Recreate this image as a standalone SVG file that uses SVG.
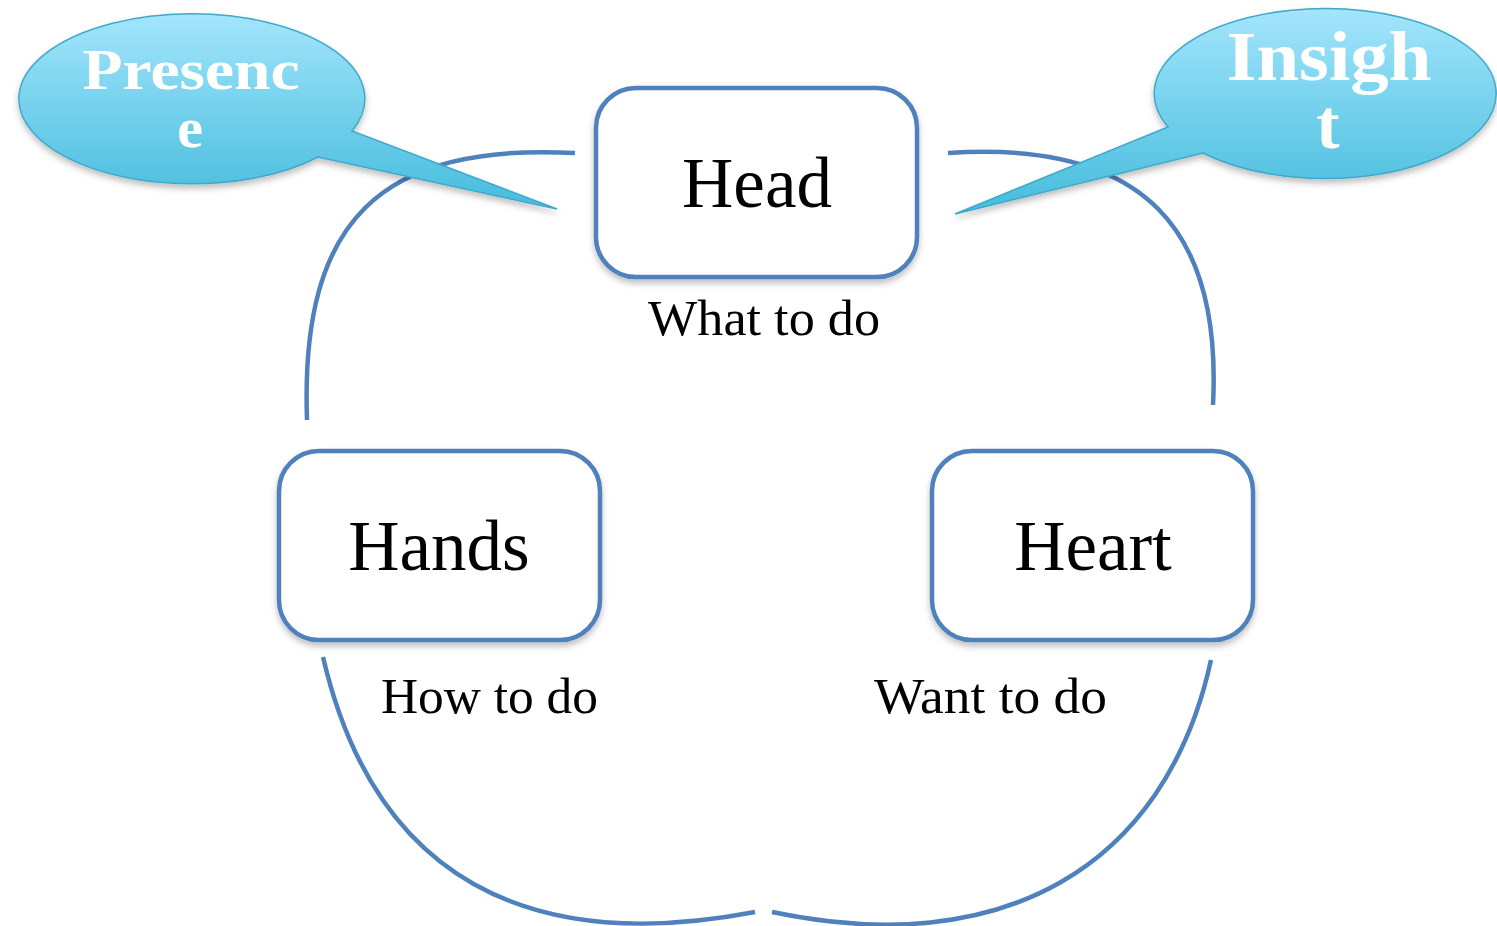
<svg xmlns="http://www.w3.org/2000/svg" width="1497" height="926" viewBox="0 0 1497 926">
<style>
.box{fill:#fff;stroke:#4f81bd;stroke-width:4.5}
.arc{fill:none;stroke:#4f81bd;stroke-width:4.5}
.big{font-family:"Liberation Serif",serif;font-size:71px;fill:#000;text-anchor:middle}
.lbl{font-family:"Liberation Serif",serif;font-size:50px;fill:#000}
.call{fill:url(#cg);stroke:#3fa9c9;stroke-width:1.5}
.ct{font-family:"Liberation Serif",serif;font-weight:bold;fill:#fff;text-anchor:middle}
</style>
<defs>
<linearGradient id="cg" x1="0" y1="0" x2="0" y2="1">
<stop offset="0" stop-color="#a3e5fc"/>
<stop offset="1" stop-color="#45bcdc"/>
</linearGradient>
<filter id="sh" x="-10%" y="-10%" width="120%" height="125%">
<feDropShadow dx="0" dy="4" stdDeviation="3" flood-color="#000" flood-opacity="0.25"/>
</filter>
</defs>
<g id="connectors">
<path class="arc" d="M575,153 C380,143 300,220 307,420"/>
<path class="arc" d="M948,153 C1145,140 1222,230 1213,405"/>
<path class="arc" d="M323,657 C375,880 530,955 755,912"/>
<path class="arc" d="M772,912 C1000,960 1165,870 1211,660"/>
</g>
<g id="head">
<rect class="box" x="596" y="88" width="321" height="189" rx="40" filter="url(#sh)"/>
<text class="big" x="757" y="207">Head</text>
<text class="lbl" x="648" y="335" textLength="232" lengthAdjust="spacingAndGlyphs">What to do</text>
</g>
<g id="hands">
<rect class="box" x="279" y="451" width="321" height="189" rx="40" filter="url(#sh)"/>
<text class="big" x="439" y="570">Hands</text>
<text class="lbl" x="381" y="713" textLength="217" lengthAdjust="spacingAndGlyphs">How to do</text>
</g>
<g id="heart">
<rect class="box" x="932" y="451" width="321" height="189" rx="40" filter="url(#sh)"/>
<text class="big" x="1093" y="570">Heart</text>
<text class="lbl" x="874" y="713" textLength="233" lengthAdjust="spacingAndGlyphs">Want to do</text>
</g>
<g id="presence">
<path class="call" filter="url(#sh)" d="M318,157 A173,85 0 1 1 352,131 L557,209 Z"/>
<text class="ct" x="191" y="89" font-size="58" textLength="217" lengthAdjust="spacingAndGlyphs">Presenc</text>
<text class="ct" x="190" y="147" font-size="58">e</text>
</g>
<g id="insight">
<path class="call" filter="url(#sh)" d="M1168,127 A171,85 0 1 1 1203,153 L955,214 Z"/>
<text class="ct" x="1329" y="80" font-size="70" textLength="205" lengthAdjust="spacingAndGlyphs">Insigh</text>
<text class="ct" x="1328" y="148" font-size="70">t</text>
</g>
</svg>
